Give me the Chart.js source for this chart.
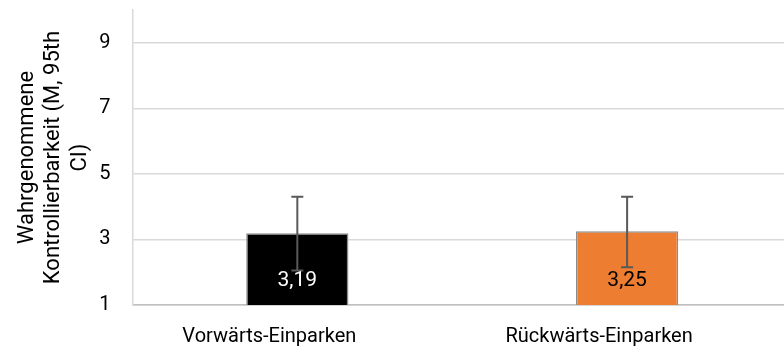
<!DOCTYPE html>
<html>
<head>
<meta charset="utf-8">
<script src="https://cdn.jsdelivr.net/npm/chart.js@4.4.0/dist/chart.umd.min.js"></script>
<style>
  html, body { margin: 0; padding: 0; background: #fff; overflow: hidden; }
  .box { position: relative; width: 792px; height: 349px; }
</style>
</head>
<body>
<div class="box"><canvas id="kontrolle"></canvas></div>
<script>
const kategorien = ['Vorwärts-Einparken', 'Rückwärts-Einparken'];
const mittelwerte = [3.19, 3.25];
const ci_unten = [2.05, 2.15];
const ci_oben = [4.30, 4.30];
const werte_text = ['3,19', '3,25'];
const y_ticks = [1, 3, 5, 7, 9];

const schrift = "Roboto, 'Open Sans', sans-serif";

Chart.defaults.font.family = schrift;
Chart.defaults.color = '#000';

// error bars + value labels
const extras = {
  id: 'extras',
  afterDatasetsDraw(chart) {
    const ctx = chart.ctx;
    const y = chart.scales.y;
    const meta = chart.getDatasetMeta(0);
    ctx.save();
    meta.data.forEach((bar, i) => {
      const x = bar.x;
      const yo = y.getPixelForValue(ci_oben[i]);
      const yu = y.getPixelForValue(ci_unten[i]);
      ctx.strokeStyle = '#595959';
      ctx.lineWidth = 2;
      ctx.beginPath();
      ctx.moveTo(x, yo); ctx.lineTo(x, yu);
      ctx.moveTo(x - 6, yo); ctx.lineTo(x + 6, yo);
      ctx.moveTo(x - 6, yu); ctx.lineTo(x + 6, yu);
      ctx.stroke();

      ctx.fillStyle = i === 0 ? '#fff' : '#000';
      ctx.font = '21px ' + schrift;
      ctx.textAlign = 'center';
      ctx.textBaseline = 'middle';
      ctx.fillText(werte_text[i], x, y.bottom - 24);
    });
    ctx.restore();
  }
};

new Chart(document.getElementById('kontrolle'), {
  type: 'bar',
  data: {
    labels: kategorien,
    datasets: [{
      data: mittelwerte,
      backgroundColor: ['#000000', '#ED7D31'],
      borderColor: '#8c8c8c',
      borderWidth: 1.5,
      borderSkipped: false,
      barPercentage: 0.62,
      categoryPercentage: 0.5
    }]
  },
  options: {
    responsive: true,
    maintainAspectRatio: false,
    animation: false,
    layout: { padding: { left: 14, top: 10, right: 0, bottom: -20 } },
    plugins: {
      legend: { display: false },
      tooltip: { enabled: false }
    },
    scales: {
      x: {
        grid: { display: false, drawTicks: false },
        border: { color: '#bfbfbf', width: 1.5 },
        ticks: { font: { size: 20 }, padding: 20, labelOffset: -28, maxRotation: 0 }
      },
      y: {
        min: 1,
        max: 10,
        afterBuildTicks(scale) { scale.ticks = y_ticks.map(v => ({ value: v })); },
        afterFit(scale) { scale.paddingTop = 0; scale.paddingBottom = 0; },
        grid: { color: '#d9d9d9', lineWidth: 1.5, drawTicks: false },
        border: { color: '#d9d9d9', width: 1.5 },
        ticks: { font: { size: 20 }, padding: 22 },
        title: {
          display: true,
          text: ['Wahrgenommene', 'Kontrollierbarkeit (M, 95th', 'CI)'],
          font: { size: 22 },
          padding: { top: 0, bottom: -16 }
        }
      }
    }
  },
  plugins: [extras]
});
</script>
</body>
</html>
